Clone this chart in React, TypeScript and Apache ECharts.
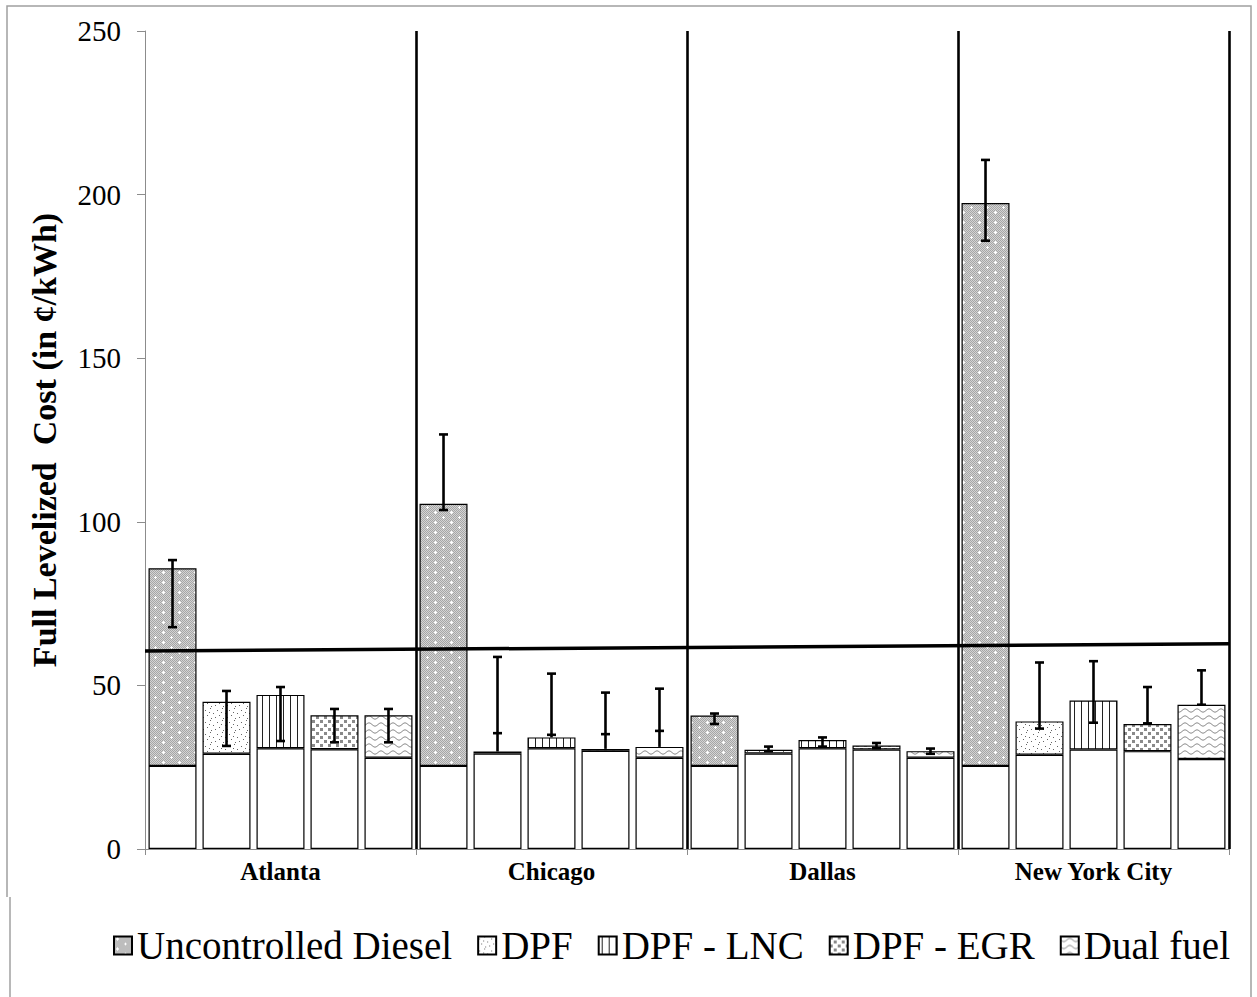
import React, { useEffect, useRef } from 'react';
import * as echarts from 'echarts';

const cities = ['Atlanta', 'Chicago', 'Dallas', 'New York City'];
const techs = ['Uncontrolled Diesel', 'DPF', 'DPF - LNC', 'DPF - EGR', 'Dual fuel'];

// white base part of each bar
const uncBase = [25.4, 25.4, 25.4, 25.4];
const dpfBase = [29.1, 29.2, 29.2, 28.8];
const lncBase = [30.8, 30.8, 30.8, 30.4];
const egrBase = [30.5, 30.0, 30.4, 29.9];
const dualBase = [27.9, 27.9, 27.9, 27.5];

// total height of each bar
const uncTotal = [85.8, 105.5, 40.8, 197.4];
const dpfTotal = [45.0, 29.8, 30.3, 39.0];
const lncTotal = [47.1, 34.1, 33.3, 45.4];
const egrTotal = [40.9, 30.6, 31.6, 38.2];
const dualTotal = [40.9, 31.2, 29.9, 44.1];

// error bar ends
const uncLow = [67.8, 103.6, 38.2, 185.9];
const uncHigh = [88.3, 126.7, 41.4, 210.6];
const dpfLow = [31.5, 35.4, 29.9, 36.8];
const dpfHigh = [48.3, 58.7, 31.3, 57.0];
const lncLow = [33.0, 34.9, 31.3, 38.6];
const lncHigh = [49.5, 53.6, 34.1, 57.4];
const egrLow = [32.6, 35.1, 30.8, 38.4];
const egrHigh = [42.8, 47.8, 32.4, 49.5];
const dualLow = [32.6, 36.1, 29.1, 44.1];
const dualHigh = [42.8, 49.0, 30.7, 54.6];

// sloped reference line (start / end value across the chart)
const refLine = [60.5, 62.7];
const yTicks = [0, 50, 100, 150, 200, 250];

const CAT_GAP = 0.026;
const BAR_GAP = 0.125;

function makePattern(kind: number) {
  const c = document.createElement('canvas');
  let w = 8;
  let h = 8;
  if (kind === 0) { w = 16; h = 10; }
  if (kind === 1) { w = 12; h = 12; }
  if (kind === 2) { w = 7; h = 7; }
  if (kind === 3) { w = 8; h = 8; }
  if (kind === 4) { w = 12; h = 7; }
  c.width = w;
  c.height = h;
  const ctx = c.getContext('2d')!;
  if (kind === 0) {
    for (let y = 0; y < h; y++) {
      for (let x = 0; x < w; x++) {
        ctx.fillStyle = (x + y) % 2 === 0 ? '#a6a6a6' : '#d4d4d4';
        ctx.fillRect(x, y, 1, 1);
      }
    }
    ctx.fillStyle = '#ffffff';
    const plus = (px: number, py: number) => {
      ctx.fillRect(px - 1, py, 3, 1);
      ctx.fillRect(px, py - 1, 1, 3);
    };
    plus(3, 2);
    plus(11, 7);
  } else {
    ctx.fillStyle = '#ffffff';
    ctx.fillRect(0, 0, w, h);
    if (kind === 1) {
      ctx.fillStyle = '#666';
      const pts = [[1, 2], [6, 0], [9, 5], [3, 7], [7, 10], [11, 9], [5, 4]];
      pts.forEach(([x, y]) => ctx.fillRect(x, y, 1, 1));
    } else if (kind === 2) {
      ctx.fillStyle = '#222';
      ctx.fillRect(3, 0, 1, h);
    } else if (kind === 3) {
      ctx.fillStyle = '#8a8a8a';
      ctx.fillRect(0, 0, 3, 3);
      ctx.fillRect(4, 4, 3, 3);
    } else if (kind === 4) {
      ctx.strokeStyle = '#777';
      ctx.lineWidth = 1;
      ctx.beginPath();
      for (let x = 0; x <= w; x += 0.5) {
        const y = 3.5 + 1.6 * Math.sin((2 * Math.PI * x) / w);
        if (x === 0) ctx.moveTo(x, y);
        else ctx.lineTo(x, y);
      }
      ctx.stroke();
    }
  }
  return { image: c.toDataURL(), repeat: 'repeat', imageWidth: w, imageHeight: h };
}

export default function App() {
  const ref = useRef<HTMLDivElement>(null);

  useEffect(() => {
    document.body.style.margin = '0';
    const chart = echarts.init(ref.current!, null, { renderer: 'svg' });

    const bases = [uncBase, dpfBase, lncBase, egrBase, dualBase];
    const totals = [uncTotal, dpfTotal, lncTotal, egrTotal, dualTotal];
    const lows = [uncLow, dpfLow, lncLow, egrLow, dualLow];
    const highs = [uncHigh, dpfHigh, lncHigh, egrHigh, dualHigh];

    const font = 'Liberation Serif';
    const series: any[] = [];
    techs.forEach((name, ti) => {
      series.push({
        name: 'base' + ti,
        type: 'bar',
        stack: 's' + ti,
        data: bases[ti],
        barGap: BAR_GAP * 100 + '%',
        barCategoryGap: CAT_GAP * 100 + '%',
        itemStyle: { color: '#ffffff', borderColor: '#000', borderWidth: 1.2 },
        emphasis: { disabled: true },
      });
      series.push({
        name,
        type: 'bar',
        stack: 's' + ti,
        data: totals[ti].map((t, ci) => +(t - bases[ti][ci]).toFixed(2)),
        barGap: BAR_GAP * 100 + '%',
        barCategoryGap: CAT_GAP * 100 + '%',
        itemStyle: { color: makePattern(ti) as any, borderColor: '#000', borderWidth: 1.2 },
        emphasis: { disabled: true },
      });
    });

    const errData: number[][] = [];
    techs.forEach((_, ti) => {
      cities.forEach((_, ci) => {
        errData.push([ci, ti, lows[ti][ci], highs[ti][ci], totals[ti][ci]]);
      });
    });

    series.push({
      type: 'custom',
      name: 'err',
      xAxisIndex: 0,
      yAxisIndex: 0,
      z: 5,
      data: errData,
      encode: { x: 0, y: [2, 3] },
      renderItem: (params: any, api: any) => {
        const ci = api.value(0);
        const ti = api.value(1);
        const lo = api.value(2);
        const hi = api.value(3);
        const tot = api.value(4);
        const band = api.size([1, 0])[0];
        const bw = (band * (1 - CAT_GAP)) / (5 + 4 * BAR_GAP);
        const off = (ti - 2) * bw * (1 + BAR_GAP);
        const pLo = api.coord([ci, lo]);
        const pHi = api.coord([ci, hi]);
        const pBot = api.coord([ci, Math.min(lo, tot)]);
        const pTop = api.coord([ci, Math.max(hi, tot)]);
        const x = pLo[0] + off;
        const cap = 4.5;
        const st = { stroke: '#000', lineWidth: 2.6 };
        return {
          type: 'group',
          children: [
            { type: 'line', shape: { x1: x, y1: pBot[1], x2: x, y2: pTop[1] }, style: st },
            { type: 'line', shape: { x1: x - cap, y1: pLo[1], x2: x + cap, y2: pLo[1] }, style: st },
            { type: 'line', shape: { x1: x - cap, y1: pHi[1], x2: x + cap, y2: pHi[1] }, style: st },
          ],
        };
      },
    });

    series.push({
      type: 'line',
      name: 'ref',
      xAxisIndex: 1,
      yAxisIndex: 0,
      z: 6,
      symbol: 'none',
      data: [[0, refLine[0]], [cities.length, refLine[1]]],
      lineStyle: { color: '#000', width: 3.5 },
      markLine: {
        silent: true,
        symbol: ['none', 'none'],
        label: { show: false },
        lineStyle: { color: '#000', width: 2.6, type: 'solid' },
        data: [1, 2, 3, 4].map((v) => ({ xAxis: v })),
      },
    });

    chart.setOption({
      animation: false,
      backgroundColor: '#ffffff',
      grid: { left: 145, right: 28, top: 31, bottom: 148 },
      legend: {
        data: techs,
        left: 108,
        top: 921,
        itemWidth: 18,
        itemHeight: 18,
        itemGap: 25,
        icon: 'rect',
        itemStyle: { borderColor: '#000', borderWidth: 2 },
        textStyle: { fontFamily: font, fontSize: 39, color: '#000' },
      },
      xAxis: [
        {
          type: 'category',
          data: cities,
          axisLine: { lineStyle: { color: '#8c8c8c', width: 1 } },
          axisTick: { show: true, length: 6, lineStyle: { color: '#8c8c8c' } },
          axisLabel: {
            fontFamily: font,
            fontWeight: 'bold',
            fontSize: 25,
            color: '#000',
            margin: 10,
          },
          splitLine: { show: false },
        },
        {
          type: 'value',
          min: 0,
          max: cities.length,
          show: false,
          splitLine: { show: false },
        },
      ],
      yAxis: {
        type: 'value',
        min: yTicks[0],
        max: yTicks[yTicks.length - 1],
        interval: yTicks[1] - yTicks[0],
        name: 'Full Levelized  Cost (in ¢/kWh)',
        nameLocation: 'middle',
        nameRotate: 90,
        nameGap: 84,
        nameTextStyle: { fontFamily: font, fontWeight: 'bold', fontSize: 34, color: '#000' },
        axisLine: { show: true, lineStyle: { color: '#8c8c8c', width: 1 } },
        axisTick: { show: true, length: 8, lineStyle: { color: '#8c8c8c' } },
        axisLabel: { fontFamily: font, fontSize: 29, color: '#000', margin: 24 },
        splitLine: { show: false },
      },
      graphic: [
        {
          type: 'polyline',
          silent: true,
          shape: { points: [[7, 897], [7, 6], [1251, 6], [1251, 997]] },
          style: { stroke: '#a0a0a0', lineWidth: 1.5, fill: 'none' },
        },
        {
          type: 'line',
          silent: true,
          shape: { x1: 10, y1: 897, x2: 10, y2: 997 },
          style: { stroke: '#a0a0a0', lineWidth: 1.5 },
        },
      ],
      series,
    });

    return () => chart.dispose();
  }, []);

  return (
    <div
      ref={ref}
      style={{ position: 'absolute', left: 0, top: 0, width: 1257, height: 997 }}
    />
  );
}
